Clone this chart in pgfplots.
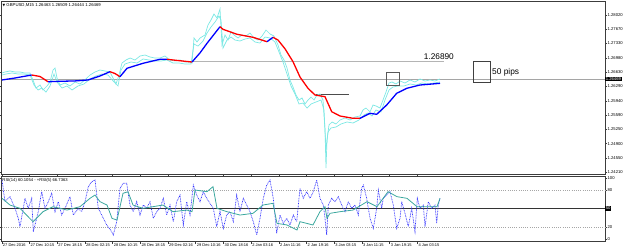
\documentclass[border=0pt]{standalone}
\usepackage{pgfplots}
\pgfplotsset{compat=1.18}
\usepackage{fontspec}
\setmainfont{Liberation Sans}
\newfontfamily\dejavu{DejaVu Sans}
\definecolor{cyanp}{RGB}{125,232,228}
\definecolor{mablue}{RGB}{0,0,255}
\definecolor{mared}{RGB}{255,0,0}
\definecolor{rsiteal}{RGB}{60,168,158}
\definecolor{rsiblue}{RGB}{50,50,255}
\definecolor{frm}{RGB}{60,60,60}
\definecolor{lvl}{RGB}{180,180,180}
\definecolor{cur}{RGB}{165,165,165}
\begin{document}
\begin{tikzpicture}
\useasboundingbox (0bp,0bp) rectangle (625bp,251bp);
% ---------------- main price panel ----------------
\begin{axis}[at={(1.7bp,76.7bp)}, anchor=south west, scale only axis,
  width=603.3bp, height=172.6bp,
  xmin=1.7, xmax=605, ymin=1.24154, ymax=1.28343,
  clip=false,
  axis line style={frm, line width=0.6bp},
  xtick=\empty,
  ytick={1.24210,1.24550,1.24900,1.25250,1.25590,1.25940,1.26290,1.26630,1.26980,1.27330,1.27670,1.28020},
  yticklabels={1.24210,1.24550,1.24900,1.25250,1.25590,1.25940,1.26290,1.26630,1.26980,1.27330,1.27670,1.28020},
  yticklabel pos=right,
  tick align=outside, major tick length=1.8bp,
  tick style={frm, line width=0.4bp},
  yticklabel style={font=\fontsize{4.2}{5}\selectfont, inner sep=0.6bp},
]
% current price line
\addplot[cur, line width=0.7bp] coordinates {(1.7,1.26467) (605,1.26467)};
% horizontal level 1.26890
\addplot[lvl, line width=1.6bp] coordinates {(192,1.26890) (444,1.26890)};
% short dark line
\addplot[black!70, line width=0.6bp] coordinates {(316,1.26096) (349,1.26096)};
% cyan price lines
\addplot[cyanp, line width=0.7bp] coordinates {
(2,1.26612)(5,1.26637)(10,1.26661)(15,1.26637)(20,1.26637)(25,1.26612)(30,1.26612)(33,1.26443)(36,1.26248)(40,1.26321)(43,1.26200)(47,1.26297)(50,1.26394)(53,1.26685)(55,1.26734)(57,1.26491)(60,1.26321)(65,1.26370)(70,1.26297)(75,1.26394)(80,1.26346)(85,1.26443)(90,1.26564)(95,1.26637)(100,1.26685)(105,1.26661)(110,1.26637)(113,1.26491)(116,1.26346)(119,1.26564)(122,1.26855)(126,1.26928)(130,1.26976)(135,1.26928)(140,1.27025)(145,1.27049)(150,1.27001)(155,1.26976)(160,1.26976)(165,1.27025)(170,1.26928)(175,1.26904)(180,1.26928)(185,1.26879)(190,1.26879)(192,1.26855)(194,1.27462)(197,1.27365)(200,1.27462)(205,1.27535)(208,1.27777)(211,1.27899)(214,1.28044)(217,1.27947)(220,1.28166)(222,1.27292)(225,1.27535)(228,1.27413)(231,1.27608)(234,1.27535)(238,1.27462)(242,1.27535)(246,1.27510)(250,1.27583)(254,1.27462)(258,1.27413)(262,1.27510)(266,1.27656)(270,1.27559)(274,1.27510)(278,1.27292)(281,1.27049)(284,1.26928)(287,1.26734)(290,1.26443)(293,1.26273)(296,1.26079)(299,1.25957)(302,1.26006)(305,1.25860)(308,1.25957)(311,1.26030)(314,1.25957)(317,1.26079)(320,1.26103)(323,1.25957)(325,1.25229)(326,1.24307)(327,1.24986)(329,1.25351)(332,1.25423)(336,1.25375)(340,1.25472)(345,1.25521)(350,1.25472)(355,1.25545)(360,1.25569)(363,1.25715)(366,1.25763)(370,1.25666)(373,1.25836)(376,1.25812)(380,1.25763)(383,1.25957)(386,1.26151)(389,1.26370)(392,1.26394)(396,1.26346)(400,1.26418)(405,1.26370)(410,1.26443)(415,1.26394)(420,1.26467)(425,1.26418)(430,1.26443)(435,1.26418)(440,1.26467)};
\addplot[cyanp, line width=0.7bp] coordinates {
(2,1.26564)(6,1.26588)(12,1.26612)(18,1.26588)(24,1.26588)(30,1.26564)(34,1.26321)(38,1.26200)(42,1.26248)(46,1.26151)(50,1.26297)(54,1.26588)(57,1.26394)(62,1.26248)(67,1.26297)(72,1.26200)(78,1.26297)(84,1.26346)(90,1.26467)(96,1.26540)(102,1.26588)(108,1.26564)(114,1.26394)(118,1.26297)(121,1.26685)(125,1.26831)(131,1.26879)(137,1.26855)(143,1.26952)(149,1.26928)(155,1.26904)(161,1.26904)(167,1.26928)(173,1.26855)(179,1.26855)(185,1.26831)(191,1.26831)(194,1.27316)(198,1.27267)(203,1.27389)(207,1.27583)(211,1.27729)(215,1.27850)(219,1.27996)(221,1.27899)(223,1.27219)(227,1.27413)(231,1.27486)(235,1.27413)(240,1.27389)(245,1.27437)(250,1.27462)(255,1.27365)(260,1.27340)(265,1.27486)(270,1.27462)(275,1.27365)(279,1.27122)(283,1.26879)(287,1.26588)(291,1.26297)(295,1.26103)(299,1.25860)(303,1.25884)(307,1.25763)(311,1.25860)(316,1.25909)(321,1.25957)(324,1.25715)(326,1.24744)(328,1.25181)(331,1.25278)(336,1.25302)(341,1.25375)(347,1.25423)(353,1.25399)(359,1.25472)(364,1.25593)(368,1.25642)(372,1.25569)(376,1.25715)(381,1.25666)(385,1.25957)(389,1.26200)(393,1.26273)(398,1.26297)(404,1.26297)(410,1.26346)(416,1.26321)(422,1.26370)(428,1.26346)(434,1.26370)(440,1.26394)};
% moving average, blue rising / red falling
\addplot[mablue, line width=1.3bp] coordinates {(2,1.26443)(15,1.26491)(31.7,1.26564)};
\addplot[mared, line width=1.3bp] coordinates {(31.7,1.26564)(40,1.26528)(48,1.26401)};
\addplot[mablue, line width=1.3bp] coordinates {(48,1.26401)(60,1.26411)(75,1.26420)(88,1.26443)(100,1.26540)(110,1.26644)};
\addplot[mared, line width=1.3bp] coordinates {(110,1.26644)(115,1.26600)(120,1.26523)};
\addplot[mablue, line width=1.3bp] coordinates {(120,1.26523)(127,1.26727)(143,1.26848)(160,1.26945)(167,1.26945)};
\addplot[mared, line width=1.3bp] coordinates {(167,1.26945)(180,1.26910)(192,1.26879)};
\addplot[mablue, line width=1.3bp] coordinates {(192,1.26879)(200,1.27100)(207,1.27333)(220,1.27736)};
\addplot[mared, line width=1.3bp] coordinates {(220,1.27736)(223,1.27673)(237,1.27552)(253,1.27479)(267,1.27372)};
\addplot[mablue, line width=1.3bp] coordinates {(267,1.27372)(273,1.27479)};
\addplot[mared, line width=1.3bp] coordinates {(273,1.27479)(278,1.27413)(285,1.27200)(293,1.26887)(300,1.26515)(308,1.26241)(315,1.26079)(325,1.26037)(331.7,1.25673)(340,1.25569)(353,1.25513)(360,1.25513)};
\addplot[mablue, line width=1.3bp] coordinates {(360,1.25513)(370,1.25634)(376.7,1.25610)(386.7,1.25836)(396.7,1.26120)(406.7,1.26241)(420,1.26321)(440,1.26362)};
% boxes and labels
\draw[black!65, line width=0.6bp] (axis cs:386,1.26637) rectangle (axis cs:399,1.26321);
\draw[black!75, line width=0.6bp] (axis cs:473,1.26890) rectangle (axis cs:490,1.26390);
\node[anchor=south east, inner sep=0, font=\fontsize{8.3}{9}\selectfont] at (axis cs:454,1.26935) {1.26890};
\node[anchor=west, inner sep=0, font=\fontsize{8.4}{9}\selectfont] at (axis cs:492,1.26637) {50 pips};
\node[anchor=west, fill=black, text=white, inner sep=0.6bp, font=\fontsize{4.2}{5}\selectfont] at (axis cs:605,1.26469) {1.26469};
\end{axis}
% ---------------- RSI panel ----------------
\begin{axis}[at={(1.7bp,9.3bp)}, anchor=south west, scale only axis,
  width=603.3bp, height=65.7bp,
  xmin=1.7, xmax=605, ymin=-4.4, ymax=103.3,
  clip=false,
  axis line style={frm, line width=0.6bp},
  ytick={0,20,80,100}, yticklabels={0,20,80,100},
  yticklabel pos=right,
  xtick={1.7,29.4,57.1,84.8,112.5,140.2,167.9,195.6,223.3,251.0,278.7,306.4,334.1,361.8,389.5,417.2},
  xticklabels={27 Dec 2016,27 Dec 10:15,27 Dec 18:15,28 Dec 02:15,28 Dec 10:15,28 Dec 18:15,29 Dec 02:16,29 Dec 10:16,30 Dec 18:16,2 Jan 03:16,2 Jan 11:16,2 Jan 19:16,3 Jan 03:15,3 Jan 11:15,3 Jan 19:15,4 Jan 03:15},
  xticklabel style={anchor=north west, inner sep=0.5bp, xshift=0.6bp, font=\fontsize{4}{5}\selectfont},
  tick align=outside, major tick length=1.8bp,
  tick style={frm, line width=0.4bp},
  yticklabel style={font=\fontsize{4.2}{5}\selectfont, inner sep=0.6bp},
]
\addplot[black!35, line width=0.5bp, dash pattern=on 1bp off 1.2bp] coordinates {(1.7,80) (605,80)};
\addplot[black!35, line width=0.5bp, dash pattern=on 1bp off 1.2bp] coordinates {(1.7,20) (605,20)};
\addplot[black!80, line width=0.8bp] coordinates {(1.7,50) (605,50)};
\addplot[rsiblue, line width=0.7bp, dash pattern=on 0.8bp off 0.8bp] coordinates {
(2,96.7)(5,61.2)(10,69.4)(15,50.3)(18.3,33.9)(20,20.2)(25,66.7)(28.3,50.3)(31.7,66.7)(33.3,12)(38.3,44.8)(41.7,77.6)(45,50.3)(48.3,61.2)(51.7,74.9)(55,44.8)(58.3,61.2)(61.7,39.3)(65,50.3)(70,69.4)(73.3,39.3)(78.3,50.3)(81.7,44.8)(85,61.2)(88.3,85.8)(91.7,94)(95,96.7)(98.3,50.3)(101.7,39.3)(106.7,23)(111.7,12)(113.3,6.6)(116.7,28.4)(120,83.1)(123.3,91.3)(126.7,91.3)(130,55.7)(133.3,44.8)(136.7,61.2)(140,39.3)(143.3,55.7)(146.7,50.3)(150,61.2)(153.3,33.9)(156.7,44.8)(160,50.3)(163.3,66.7)(166.7,39.3)(170,55.7)(173.3,28.4)(176.7,61.2)(180,72.1)(183.3,23)(186.7,61.2)(190,39.3)(193.3,88.5)(196.7,72.1)(200,61.2)(203.3,77.6)(206.7,66.7)(213.3,50.3)(216.7,20.2)(220,44.8)(223.3,17.5)(226.7,39.3)(230,44.8)(233.3,28.4)(236.7,72.1)(240,44.8)(243.3,66.7)(246.7,55.7)(250,44.8)(253.3,28.4)(256.7,6.6)(260,33.9)(263.3,66.7)(266.7,88.5)(270,96.7)(273.3,66.7)(276.7,9.3)(280,39.3)(283.3,25.7)(286.7,33.9)(290,23)(293.3,39.3)(296.7,28.4)(300,83.1)(303.3,66.7)(306.7,77.6)(310,66.7)(313.3,77.6)(316.7,96.7)(320,66.7)(323.3,55.7)(325,33.9)(326.7,6.6)(328.3,55.7)(331.7,66.7)(335,61.2)(338.3,69.4)(341.7,55.7)(345,44.8)(348.3,61.2)(351.7,50.3)(355,55.7)(358.3,39.3)(361.7,83.1)(363.3,88.5)(366.7,66.7)(370,33.9)(373.3,17.5)(376.7,50.3)(378.3,80.3)(381.7,50.3)(383.3,66.7)(386.7,72.1)(390,77.6)(393.3,55.7)(396.7,17.5)(400,33.9)(401.7,61.2)(405,42)(408.3,20.2)(411.7,50.3)(415,12)(417.3,66.7)(420,50.3)(423.3,55.7)(425,20.2)(428.3,61.2)(431.7,50.3)(435,55.7)(436.7,25.7)(438.3,55.7)(440,66.7)};
\addplot[rsiteal, line width=0.8bp] coordinates {
(2,66.7)(10,55.7)(20,50.3)(33,28.4)(43,44.8)(53,53)(67,47.5)(80,53)(90,66.7)(95,72.1)(100,61.2)(107,55.7)(112,33.9)(117,31.1)(123,74.9)(128,77.6)(133,55.7)(143,50.3)(153,53)(163,55.7)(173,44.8)(187,47.5)(192,44.8)(195,80.3)(207,77.6)(213,85.8)(217,50.3)(227,44.8)(240,39.3)(253,42.1)(263,55.7)(273,58.5)(277,25.7)(287,23)(297,14.8)(300,28.4)(313,23)(320,45)(325,53)(327,33.9)(330,42.1)(340,44.8)(353,47.5)(367,61.2)(377,53)(388,77.6)(397,69.4)(407,66.7)(417,53)(427,53)(437,53)(440,66.7)};
\node[anchor=west, fill=black, text=white, inner sep=0.6bp, font=\fontsize{4.2}{5}\selectfont] at (axis cs:605,50) {50};
\end{axis}
% panel captions
\node[anchor=west, inner sep=0, font=\fontsize{4.3}{5}\selectfont] at (2.5bp,245.8bp) {{\dejavu\fontsize{3.4}{4}\selectfont ▼} GBPUSD,M15\ 1.26463 1.26509 1.26444 1.26469};
\node[anchor=west, inner sep=0, font=\fontsize{4.2}{5}\selectfont] at (2.3bp,70.6bp) {RSI(14) 60.1054 - +RSI(5) 66.7363};
\end{tikzpicture}
\end{document}
